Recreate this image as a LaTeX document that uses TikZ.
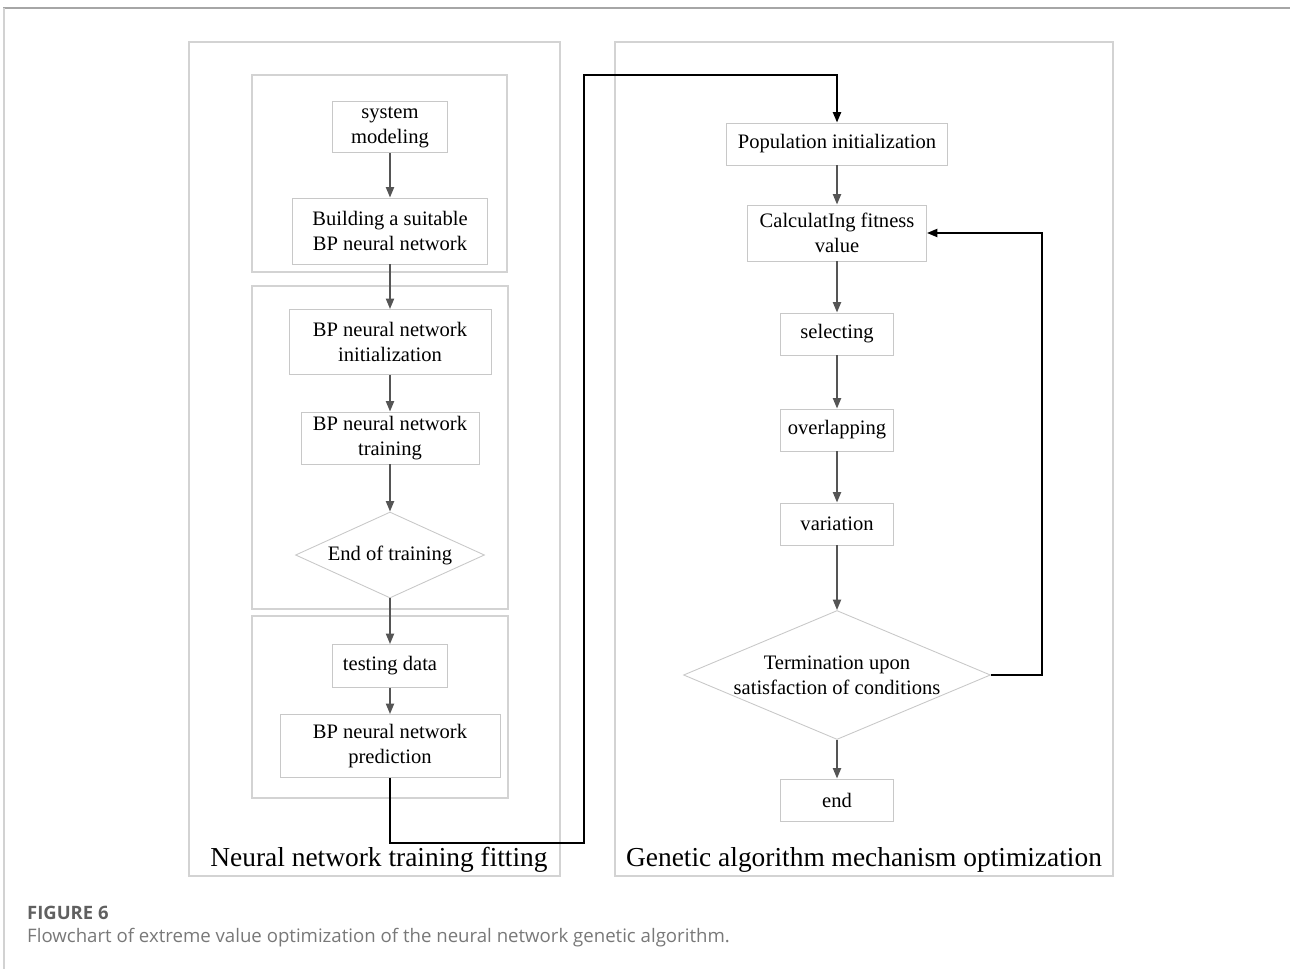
\documentclass[tikz,border=0pt]{standalone}
\usepackage{fontspec}
\setmainfont{Liberation Serif}
\newfontfamily\capfont{Open Sans}
\usetikzlibrary{shapes.geometric, arrows.meta}
\definecolor{boxgray}{HTML}{C8C8C8}
\definecolor{arrgray}{HTML}{555555}
\definecolor{capgray}{HTML}{606060}
\tikzstyle{process} = [rectangle, 
draw=boxgray, 
line width=0.5pt,
text centered, 
align=center,
inner sep=0pt,
font=\fontsize{11.7}{14.2}\selectfont]
\tikzstyle{decision} = [diamond, 
draw=boxgray, 
line width=0.5pt,
align=center,
inner sep=0pt,
font=\fontsize{11.7}{14.2}\selectfont]
\tikzstyle{panel} = [draw=boxgray!80, line width=0.8pt]
\tikzstyle{title} = [font=\fontsize{15.6}{18}\selectfont]
\tikzstyle{arrow} = [draw=arrgray, line width=1.1pt, -{Triangle[length=6pt,width=4.6pt]}]
\tikzstyle{link} = [draw=black, line width=1.2pt, -{Triangle[length=6pt,width=4.6pt]}]

\begin{document}
\begin{tikzpicture}[x=0.02cm, y=-0.02cm]
\useasboundingbox (0,0) rectangle (1290,969);

% page frame
\draw[gray!70, line width=1.2pt] (3,8) -- (1290,8);
\draw[gray!35, line width=0.8pt] (4,8) -- (4,969);

% panels
\draw[panel] (189,42) rectangle (560,876);
\draw[panel] (615,42) rectangle (1113,876);
\draw[panel] (252,75) rectangle (507,272);
\draw[panel] (252,286) rectangle (508,609);
\draw[panel] (252,616) rectangle (508,798);

% left column
\node (sys) [process, minimum width=2.3cm, minimum height=1.02cm] at (390,127) {system\\modeling};
\node (build) [process, minimum width=3.9cm, minimum height=1.32cm] at (390,231) {Building a suitable\\BP neural network};
\node (init) [process, minimum width=4.04cm, minimum height=1.3cm] at (390,342) {BP neural network\\initialization};
\node (train) [process, minimum width=3.56cm, minimum height=1.04cm] at (390,438) {BP neural network\\training};
\node (endtrain) [decision, aspect=2.2, minimum width=3.78cm, minimum height=1.72cm] at (390,555) {End of training};
\node (test) [process, minimum width=2.3cm, minimum height=0.86cm] at (390,666) {testing data};
\node (pred) [process, minimum width=4.4cm, minimum height=1.26cm] at (390,746) {BP neural network\\prediction};
\node (lefttitle) [title] at (379,860) {Neural network training fitting};

% right column
\node (pop) [process, minimum width=4.42cm, minimum height=0.84cm] at (837,144) {Population initialization};
\node (calc) [process, minimum width=3.58cm, minimum height=1.12cm] at (837,233) {CalculatIng fitness\\value};
\node (sel) [process, minimum width=2.26cm, minimum height=0.84cm] at (837,334) {selecting};
\node (over) [process, minimum width=2.26cm, minimum height=0.84cm] at (837,430) {overlapping};
\node (var) [process, minimum width=2.26cm, minimum height=0.84cm] at (837,524) {variation};
\node (term) [decision, aspect=2.4, minimum width=6.14cm, minimum height=2.58cm] at (837,675) {Termination upon\\satisfaction of conditions};
\node (fin) [process, minimum width=2.26cm, minimum height=0.84cm] at (837,800) {end};
\node (righttitle) [title] at (864,860) {Genetic algorithm mechanism optimization};

% caption
\node (figno) [anchor=west, text=capgray, font=\capfont\fontsize{10.5}{12}\selectfont\bfseries] at (21,913) {FIGURE 6};
\node (figcap) [anchor=west, text=capgray!85, font=\capfont\fontsize{10.6}{12}\selectfont] at (21,938) {Flowchart of extreme value optimization of the neural network genetic algorithm.};

\coordinate (turnA) at (584,843);
\coordinate (turnB) at (584,75);
\coordinate (turnC) at (1042,233);

\draw [arrow] (sys) -- (build);
\draw [arrow] (build) -- (init);
\draw [arrow] (init) -- (train);
\draw [arrow] (train) -- (endtrain);
\draw [arrow] (endtrain) -- (test);
\draw [arrow] (test) -- (pred);
\draw [link, line join=miter] (pred.south) |- (turnA) -- (turnB) -| (pop.north);

\draw [arrow] (pop) -- (calc);
\draw [arrow] (calc) -- (sel);
\draw [arrow] (sel) -- (over);
\draw [arrow] (over) -- (var);
\draw [arrow] (var) -- (term);
\draw [arrow] (term) -- (fin);
\draw [link, line join=miter] (term.east) -| (turnC) -- (calc.east);

\end{tikzpicture}
\end{document}
